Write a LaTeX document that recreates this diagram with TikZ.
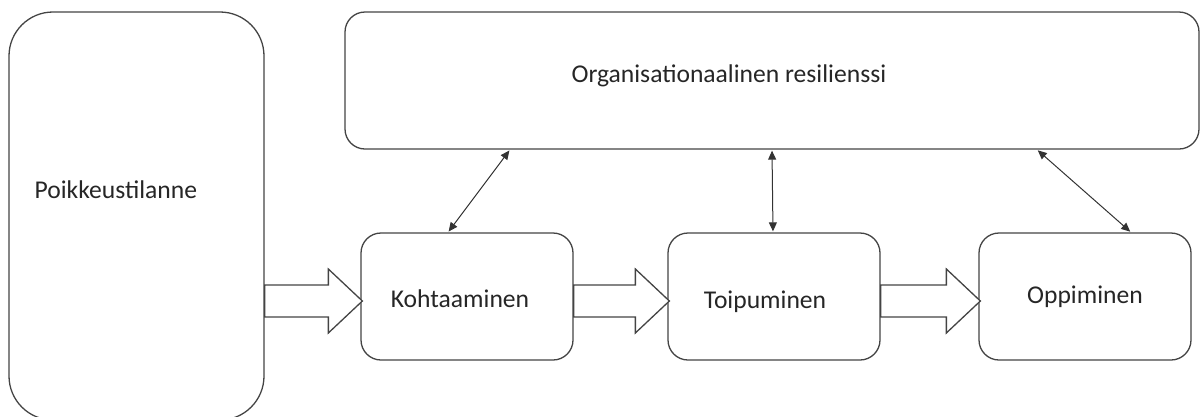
\documentclass[tikz,border=0pt]{standalone}
\usepackage{fontspec}
\setmainfont{Carlito}
\usetikzlibrary{positioning, arrows.meta, calc}
\definecolor{edgeg}{RGB}{68,68,68}

\begin{document}
\begin{tikzpicture}[x=1pt, y=-1pt,
          box/.style={draw=edgeg, line width=1.3pt, rounded corners=20pt, inner sep=0pt},
          lbl/.style={inner sep=0pt, font=\fontsize{25.6}{30}\selectfont, text=black!85},
          fat/.style={draw=edgeg, line width=1.3pt, fill=white, line join=miter},
          <->/.style={arrows={Triangle[length=9pt, width=8pt]-Triangle[length=9pt, width=8pt]},
            line width=1pt, black!80, shorten <=1pt, shorten >=1pt}]
        \useasboundingbox (0,0) rectangle (1200,416);
        % boxes
        \node[box, rounded corners=44pt, minimum width=255pt, minimum height=408pt] (poik) at (136.5,216) {};
        \node[box, minimum width=854pt, minimum height=137pt] (org) at (772,80.5) {};
        \node[box, minimum width=212pt, minimum height=127pt] (koht) at (467,296.5) {};
        \node[box, minimum width=212pt, minimum height=127pt] (toip) at (774,296.5) {};
        \node[box, minimum width=212pt, minimum height=127pt] (opp) at (1085,296.5) {};
        % labels
        \node[lbl, anchor=base west] (poiktxt) at ($(poik.west)+(26,-18)$) {Poikkeustilanne};
        \node[lbl, anchor=base west] (orgtxt) at ($(org.west)+(227,1.5)$) {Organisationaalinen resilienssi};
        \node[lbl, anchor=base] (kohttxt) at ($(koht.center)+(-7,11)$) {Kohtaaminen};
        \node[lbl, anchor=base] (toiptxt) at ($(toip.center)+(-9,12)$) {Toipuminen};
        \node[lbl, anchor=base] (opptxt) at ($(opp.center)+(0,7)$) {Oppiminen};
        % block arrows
        \foreach \a/\b in {poik/koht, koht/toip, toip/opp}
          \draw[fat] let \p1 = (\a.east), \p2 = (\b.west), \p3 = ($(\b.west)+(0,4.5)$) in
            (\x1,\y3+16pt) -- (\x2-32pt,\y3+16pt) -- (\x2-32pt,\y3+32pt) -- (\x2+2pt,\y3)
            -- (\x2-32pt,\y3-32pt) -- (\x2-32pt,\y3-16pt) -- (\x1,\y3-16pt) -- cycle;
        % links to resilience
        \draw [<->] ([xshift=-19pt]koht.north) to ([xshift=-262pt]org.south);
        \draw [<->] ([xshift=-1pt]toip.north) to (org.south);
        \draw [<->] ([xshift=265pt]org.south) to ([xshift=46pt]opp.north);
      \end{tikzpicture}
\end{document}
